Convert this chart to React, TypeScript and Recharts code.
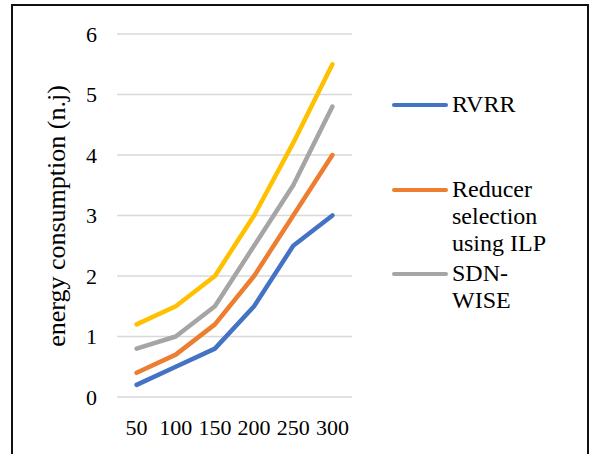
import { LineChart, Line, XAxis, YAxis, CartesianGrid } from 'recharts';

const categories = ['50', '100', '150', '200', '250', '300'];
const rvrr = [0.2, 0.5, 0.8, 1.5, 2.5, 3.0];
const reducerIlp = [0.4, 0.7, 1.2, 2.0, 3.0, 4.0];
const sdnWise = [0.8, 1.0, 1.5, 2.5, 3.5, 4.8];
const fourth = [1.2, 1.5, 2.0, 3.0, 4.2, 5.5];
const yTicks = [0, 1, 2, 3, 4, 5, 6];

const data = categories.map((c, i) => ({
  n: c,
  rvrr: rvrr[i],
  reducer: reducerIlp[i],
  sdn: sdnWise[i],
  fourth: fourth[i],
}));

const legendItems = [
  { lines: ['RVRR'], color: '#4472C4' },
  { lines: ['Reducer', 'selection', 'using ILP'], color: '#ED7D31' },
  { lines: ['SDN-', 'WISE'], color: '#A5A5A5' },
];

const FONT = 'Liberation Serif, Times New Roman, Times, Tinos, Noto Serif, DejaVu Serif, FreeSerif, serif';

export default function App() {
  return (
    <div style={{ position: 'absolute', left: 0, top: 0, width: 594, height: 454, overflow: 'hidden', background: '#fff', fontFamily: FONT }}>
      <div style={{ position: 'absolute', left: 11, top: 4, width: 578, height: 470, border: '2px solid #111', boxSizing: 'border-box' }} />
      <LineChart width={594} height={454} data={data} margin={{ top: 34, right: 242, bottom: 7, left: 57 }} style={{ fontFamily: FONT }}>
        <CartesianGrid vertical={false} stroke="#d9d9d9" strokeWidth={1.5} />
        <XAxis
          dataKey="n"
          axisLine={false}
          tickLine={false}
          tickSize={0}
          tickMargin={22}
          height={50}
          interval={0}
          padding={{ left: 19.6, right: 19.6 }}
          tick={{ fontSize: 22, fill: '#000', fontFamily: FONT }}
        />
        <YAxis
          domain={[0, 6]}
          ticks={yTicks}
          axisLine={false}
          tickLine={false}
          tickSize={0}
          tickMargin={20}
          width={60}
          tick={{ fontSize: 22, fill: '#000', fontFamily: FONT }}
        />
        <Line dataKey="rvrr" stroke="#4472C4" strokeWidth={4.5} dot={false} isAnimationActive={false} strokeLinecap="round" strokeLinejoin="round" />
        <Line dataKey="reducer" stroke="#ED7D31" strokeWidth={4.5} dot={false} isAnimationActive={false} strokeLinecap="round" strokeLinejoin="round" />
        <Line dataKey="sdn" stroke="#A5A5A5" strokeWidth={4.5} dot={false} isAnimationActive={false} strokeLinecap="round" strokeLinejoin="round" />
        <Line dataKey="fourth" stroke="#FFC000" strokeWidth={4.5} dot={false} isAnimationActive={false} strokeLinecap="round" strokeLinejoin="round" />
      </LineChart>
      <div
        style={{
          position: 'absolute',
          left: 57,
          top: 216,
          transform: 'translate(-50%, -50%) rotate(-90deg)',
          whiteSpace: 'nowrap',
          fontSize: 26,
          color: '#000',
          lineHeight: 1,
        }}
      >
        energy consumption (n.j)
      </div>
      {legendItems.map((item, i) => (
        <div key={i} style={{ position: 'absolute', left: 392, top: 105 - 14 + i * 84.5 }}>
          <div style={{ position: 'absolute', left: 0, top: 12, width: 56, height: 4, borderRadius: 2, background: item.color }} />
          <div style={{ position: 'absolute', left: 60, top: 0, fontSize: 24, lineHeight: '27px', color: '#000', whiteSpace: 'nowrap' }}>
            {item.lines.map((l, j) => (
              <div key={j}>{l}</div>
            ))}
          </div>
        </div>
      ))}
    </div>
  );
}
